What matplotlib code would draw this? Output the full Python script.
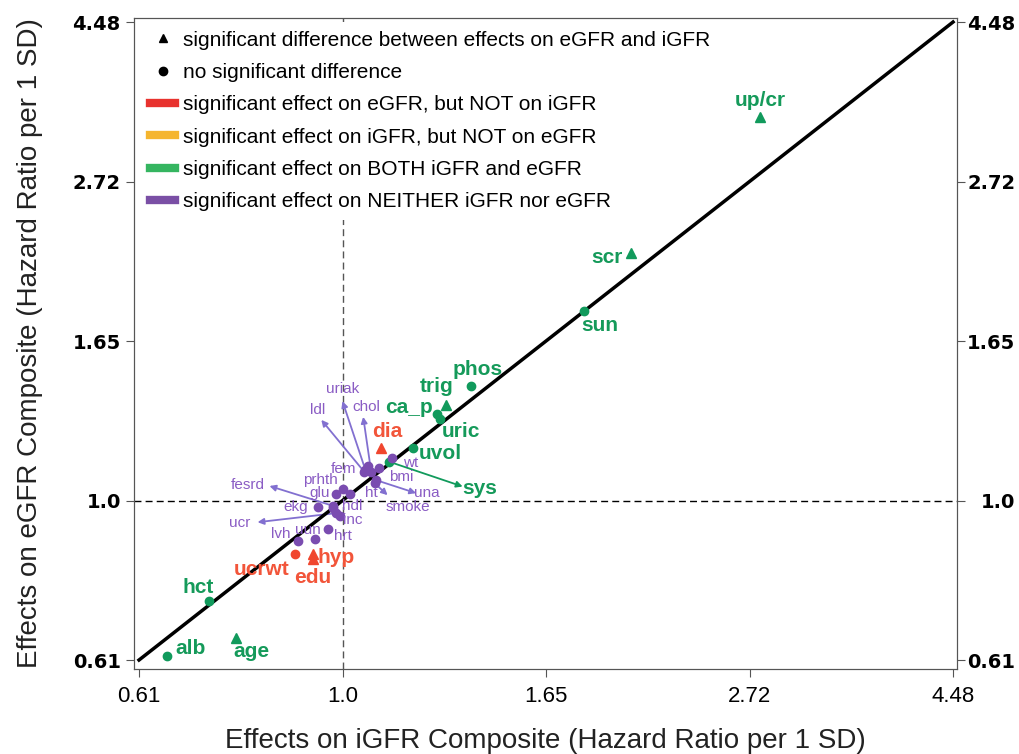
import numpy as np
import matplotlib.pyplot as plt
from matplotlib.lines import Line2D

plt.rcParams['font.family'] = ['Liberation Sans', 'DejaVu Sans']

# hazard ratios per 1 SD
names = ["up/cr", "scr", "sun", "phos", "trig", "ca_p", "uric", "uvol", "sys",
         "hct", "alb", "age",
         "dia", "ucrwt", "hyp", "edu",
         "fem", "ldl", "uriak", "chol", "fesrd", "ucr", "una", "smoke", "bmi",
         "wt", "ht", "prhth", "glu", "hdl", "inc", "ekg", "hrt", "uun", "lvh"]
igfr = [2.79, 2.03, 1.81, 1.37, 1.29, 1.26, 1.27, 1.19, 1.12,
        0.72, 0.65, 0.77,
        1.10, 0.89, 0.93, 0.93,
        1.064, 1.055, 1.058, 1.073, 0.978, 0.983, 1.086, 1.082, 1.095,
        1.128, 1.019, 1.001, 0.983, 0.976, 0.993, 0.941, 0.965, 0.934, 0.896]
egfr = [3.33, 2.17, 1.81, 1.43, 1.35, 1.31, 1.29, 1.18, 1.13,
        0.73, 0.614, 0.65,
        1.18, 0.845, 0.845, 0.833,
        1.114, 1.094, 1.100, 1.094, 0.983, 0.961, 1.066, 1.056, 1.108,
        1.144, 1.020, 1.036, 1.020, 0.976, 0.953, 0.981, 0.914, 0.886, 0.882]
group = ["both"] * 12 + ["egfr"] * 4 + ["neither"] * 19
sig_diff = ["up/cr", "scr", "trig", "age", "dia", "hyp", "edu"]

# label placement (pixels from the point), arrow heads for displaced labels
label_off = {"up/cr": (0, 16), "scr": (-24, -4), "sun": (16, -14), "phos": (7, 17),
             "trig": (-10, 18), "ca_p": (-28, 7), "uric": (21, -12), "uvol": (27, -6),
             "sys": (91, -27), "hct": (-11, 13), "alb": (23, 8), "age": (15, -14),
             "dia": (6, 16), "ucrwt": (-33, -15), "hyp": (23, -3), "edu": (0, -19),
             "fem": (-24, -3), "ldl": (-47, 62), "uriak": (-23, 81), "chol": (-5, 65),
             "fesrd": (-86, 21), "ucr": (-96, -10), "una": (51, -13), "smoke": (33, -24),
             "bmi": (22, -9), "wt": (19, -5), "ht": (21, 1), "prhth": (-23, 9),
             "glu": (-16, 1), "hdl": (20, 2), "inc": (13, -4), "ekg": (-22, 0),
             "hrt": (15, -7), "uun": (-7, 9), "lvh": (-17, 7)}
arrow_off = {"sys": (74, -25), "ldl": (-43, 52), "uriak": (-23, 69), "chol": (-8, 55),
             "fesrd": (-64, 20), "ucr": (-78, -9), "una": (40, -13), "smoke": (13, -12)}

point_col = {"both": "#119a5c", "egfr": "#f0462e", "neither": "#7a4cb0"}
text_col = {"both": "#159a5a", "egfr": "#f2553a", "neither": "#8a5cc4"}
arrow_col = {"both": "#119a5c", "egfr": "#f0462e", "neither": "#8270d0"}

fig = plt.figure(figsize=(10.19, 7.54), dpi=100)
ax = fig.add_axes([0.1315, 0.1127, 0.8077, 0.8634])
ax.set_xscale("log")
ax.set_yscale("log")
lo, hi = np.exp(-0.5), np.exp(1.5)
ax.set_xlim(np.exp(-0.5123), np.exp(1.5098))
ax.set_ylim(np.exp(-0.5282), np.exp(1.5125))

ax.axhline(1.0, color="black", lw=1, ls=(0, (5, 3)), zorder=1)
ax.axvline(1.0, color="#555555", lw=1, ls=(0, (5, 3)), zorder=1)
# line of equal effect, kept above the legend box
ax.plot([lo, hi], [lo, hi], color="black", lw=2.5, zorder=7)

for n, x, y, g in zip(names, igfr, egfr, group):
    if n in arrow_off:
        ax.annotate("", xy=(x, y), xytext=arrow_off[n], textcoords="offset pixels",
                    arrowprops=dict(arrowstyle="<|-", color=arrow_col[g], lw=1.3,
                                    mutation_scale=9, shrinkA=0, shrinkB=0), zorder=3)
for n, x, y, g in zip(names, igfr, egfr, group):
    m = "^" if n in sig_diff else "o"
    ax.plot(x, y, marker=m, ms=6.5 if m == "^" else 6, color=point_col[g], ls="none", zorder=8)
    bold = g != "neither"
    ax.annotate(n, xy=(x, y), xytext=label_off[n], textcoords="offset pixels",
                ha="center", va="center", color=text_col[g],
                fontsize=15 if bold else 11, fontweight="bold" if bold else "normal", zorder=8)

ticks = np.exp([-0.5, 0, 0.5, 1, 1.5])
tick_labels = ["0.61", "1.0", "1.65", "2.72", "4.48"]
ax.set_xticks(ticks)
ax.set_xticklabels(tick_labels, fontsize=16)
ax.set_yticks(ticks)
ax.set_yticklabels(tick_labels, fontsize=14, fontweight="bold", family="DejaVu Sans")
ax.minorticks_off()
ax.tick_params(axis="y", length=6, pad=3.5, color="#555555")
ax.tick_params(axis="x", length=6, pad=6, color="#555555")
for s in ax.spines.values():
    s.set_color("#555555")

# right-hand copy of the y axis, labels right aligned like the original
ax2 = ax.twinx()
ax2.set_yscale("log")
ax2.set_ylim(ax.get_ylim())
ax2.set_yticks(ticks)
ax2.set_yticklabels(tick_labels, fontsize=14, fontweight="bold", family="DejaVu Sans", ha="right")
ax2.minorticks_off()
ax2.tick_params(axis="y", length=6, pad=36, color="#555555")
for s in ax2.spines.values():
    s.set_color("#555555")

ax.set_xlabel("Effects on iGFR Composite (Hazard Ratio per 1 SD)", fontsize=20, color="#222222", labelpad=15)
ax.set_ylabel("Effects on eGFR Composite (Hazard Ratio per 1 SD)", fontsize=20, color="#222222", labelpad=21)

handles = [Line2D([], [], marker="^", color="black", ls="none", ms=6),
           Line2D([], [], marker="o", color="black", ls="none", ms=6),
           Line2D([], [], color="#e8322e", lw=6),
           Line2D([], [], color="#f5b52e", lw=6),
           Line2D([], [], color="#35b560", lw=6),
           Line2D([], [], color="#7a4fa5", lw=6)]
texts = ["significant difference between effects on eGFR and iGFR",
         "no significant difference",
         "significant effect on eGFR, but NOT on iGFR",
         "significant effect on iGFR, but NOT on eGFR",
         "significant effect on BOTH iGFR and eGFR",
         "significant effect on NEITHER iGFR nor eGFR"]
leg = ax.legend(handles, texts, loc="upper left", bbox_to_anchor=(0.1391, 0.9704),
                bbox_transform=fig.transFigure, fontsize=15, frameon=True,
                facecolor="white", edgecolor="none", framealpha=1,
                handlelength=1.2, handletextpad=0.38, labelspacing=0.64, borderaxespad=0)
leg.set_zorder(6)

plt.savefig("out.png", dpi=100)
